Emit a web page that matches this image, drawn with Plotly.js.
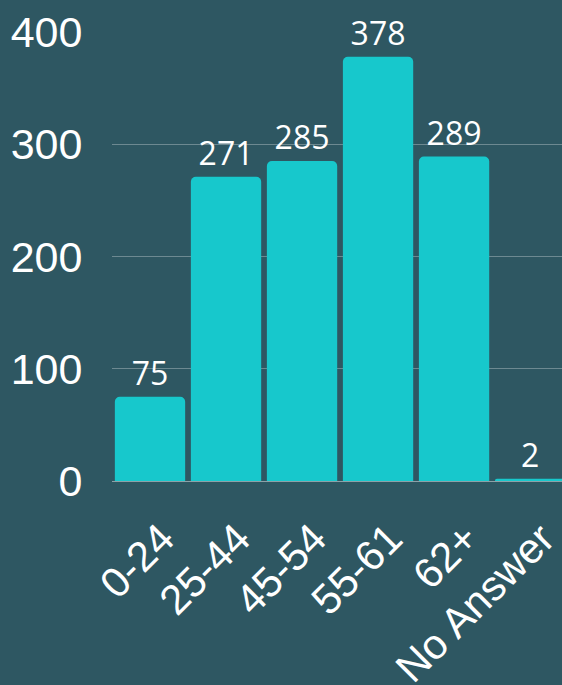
<!DOCTYPE html>
<html>
<head>
<meta charset="utf-8">
<script src="https://cdn.plot.ly/plotly-3.0.1.min.js"></script>
<style>html,body{margin:0;padding:0;background:#2e5762;}#chart{width:562px;height:685px;}</style>
</head>
<body>
<div id="chart"></div>
<script>
const categories = ["0-24", "25-44", "45-54", "55-61", "62+", "No Answer"];
const counts = [75, 271, 285, 378, 289, 2];
const yTicks = [0, 100, 200, 300, 400];

const trace = {
  type: "bar",
  x: categories,
  y: counts,
  text: counts.map(String),
  textposition: "outside",
  cliponaxis: false,
  textfont: {family: "Open Sans", size: 32, color: "#ffffff"},
  marker: {color: "#17c8cc", line: {width: 0}},
  hoverinfo: "none"
};

const layout = {
  width: 562, height: 685,
  margin: {l: 112, r: 0, t: 32, b: 204},
  paper_bgcolor: "#2e5762",
  plot_bgcolor: "#2e5762",
  bargap: 0.075,
  barcornerradius: 5,
  showlegend: false,
  xaxis: {
    type: "category",
    range: [-0.5, 5.42],
    tickangle: -45,
    tickfont: {family: "Liberation Sans", size: 42, color: "#ffffff"},
    ticklabelshift: 12,
    showgrid: false, zeroline: false, showline: false,
    ticks: "outside", ticklen: 15, tickcolor: "rgba(0,0,0,0)"
  },
  yaxis: {
    range: [0, 400],
    tickvals: yTicks,
    ticktext: yTicks.map(String),
    tickfont: {family: "Liberation Sans", size: 43, color: "#ffffff"},
    showgrid: true, gridcolor: "rgba(255,255,255,0.3)", gridwidth: 1,
    zeroline: true, zerolinecolor: "rgba(255,255,255,0.45)", zerolinewidth: 1,
    showline: false,
    ticks: "outside", ticklen: 20, tickcolor: "rgba(0,0,0,0)"
  }
};

Plotly.newPlot("chart", [trace], layout, {staticPlot: true, displayModeBar: false});
</script>
</body>
</html>
